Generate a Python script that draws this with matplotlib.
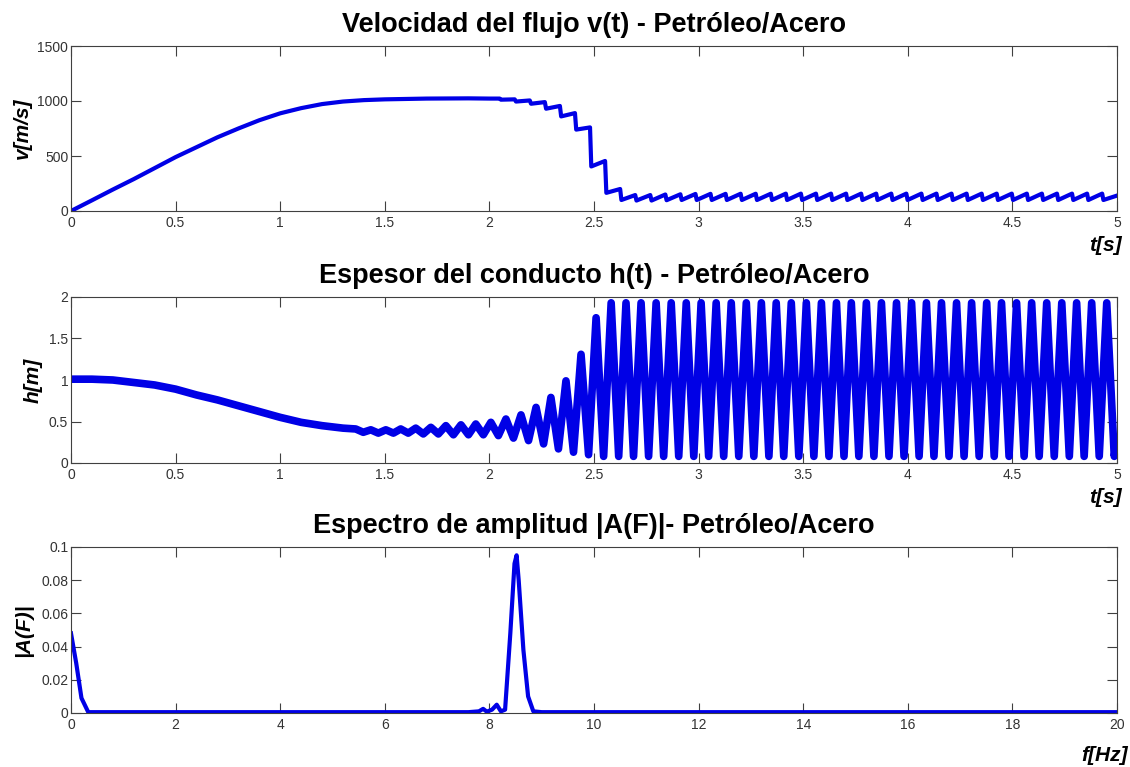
import matplotlib
matplotlib.use("Agg")
import matplotlib.pyplot as plt
from matplotlib.ticker import FormatStrFormatter

plt.rcParams["font.family"] = ["Liberation Sans", "DejaVu Sans"]

# ---- v(t): smooth rise, then step drops (sawtooth) ----
v_t_smooth = [0, 0.1, 0.2, 0.3, 0.4, 0.5, 0.6, 0.7, 0.8, 0.9, 1.0, 1.1,
              1.2, 1.3, 1.4, 1.5, 1.7, 1.9, 2.0]
v_smooth = [0, 97, 195, 290, 390, 490, 580, 670, 750, 825, 888, 935,
            972, 995, 1008, 1015, 1022, 1024, 1022]
v_drop_t = [2.049, 2.121, 2.193, 2.265, 2.337, 2.409, 2.481, 2.553, 2.625,
            2.697, 2.769, 2.841, 2.913, 2.985, 3.057, 3.129, 3.201, 3.273,
            3.345, 3.417, 3.489, 3.561, 3.633, 3.705, 3.777, 3.849, 3.921,
            3.993, 4.065, 4.137, 4.209, 4.281, 4.353, 4.425, 4.497, 4.569,
            4.641, 4.713, 4.785, 4.857, 4.929]
v_before = [1022, 1015, 1005, 990, 955, 890, 760, 455, 200,
            145, 145, 150, 152, 155, 156, 156, 157, 157,
            157, 158, 158, 158, 158, 158, 158, 158, 158,
            158, 158, 158, 158, 158, 158, 158, 158, 158,
            158, 158, 158, 158, 158]
v_after = [1012, 995, 975, 930, 860, 740, 405, 165, 100,
           95, 95, 98, 100, 100, 100, 100, 100, 100,
           100, 100, 100, 100, 100, 100, 100, 100, 100,
           100, 100, 100, 100, 100, 100, 100, 100, 100,
           100, 100, 100, 100, 100]
v_end = (5.0, 140)

# ---- h(t): smooth decay, then growing oscillation ----
h_t_smooth = [0, 0.1, 0.2, 0.3, 0.4, 0.5, 0.6, 0.7, 0.8, 0.9, 1.0, 1.1, 1.2, 1.3]
h_smooth = [1.01, 1.01, 1.0, 0.97, 0.94, 0.89, 0.82, 0.76, 0.69, 0.62, 0.55,
            0.49, 0.45, 0.42]
h_peak_t = [1.361, 1.433, 1.505, 1.576, 1.648, 1.720, 1.792, 1.864, 1.935,
            2.007, 2.079, 2.151, 2.223, 2.294, 2.366, 2.438, 2.510, 2.582,
            2.653, 2.725, 2.797, 2.869, 2.941, 3.012, 3.084, 3.156, 3.228,
            3.300, 3.371, 3.443, 3.515, 3.587, 3.659, 3.730, 3.802, 3.874,
            3.946, 4.018, 4.089, 4.161, 4.233, 4.305, 4.377, 4.448, 4.520,
            4.592, 4.664, 4.736, 4.807, 4.879, 4.951]
h_peak = [0.41, 0.40, 0.40, 0.41, 0.42, 0.43, 0.45, 0.46, 0.47,
          0.49, 0.53, 0.58, 0.67, 0.79, 0.99, 1.31, 1.75, 1.93,
          1.93, 1.93, 1.93, 1.93, 1.93, 1.93, 1.93, 1.93, 1.93,
          1.93, 1.93, 1.93, 1.93, 1.93, 1.93, 1.93, 1.93, 1.93,
          1.93, 1.93, 1.93, 1.93, 1.93, 1.93, 1.93, 1.93, 1.93,
          1.93, 1.93, 1.93, 1.93, 1.93, 1.93]
h_trough_t = [1.397, 1.469, 1.541, 1.612, 1.684, 1.756, 1.828, 1.900, 1.971,
              2.043, 2.115, 2.187, 2.259, 2.330, 2.402, 2.474, 2.546, 2.618,
              2.689, 2.761, 2.833, 2.905, 2.977, 3.048, 3.120, 3.192, 3.264,
              3.336, 3.407, 3.479, 3.551, 3.623, 3.695, 3.766, 3.838, 3.910,
              3.982, 4.054, 4.125, 4.197, 4.269, 4.341, 4.413, 4.484, 4.556,
              4.628, 4.700, 4.772, 4.843, 4.915, 4.987]
h_trough = [0.37, 0.36, 0.36, 0.36, 0.35, 0.35, 0.34, 0.34, 0.34,
            0.33, 0.30, 0.27, 0.23, 0.17, 0.13, 0.10, 0.08, 0.08,
            0.08, 0.08, 0.08, 0.08, 0.08, 0.08, 0.08, 0.08, 0.08,
            0.08, 0.08, 0.08, 0.08, 0.08, 0.08, 0.08, 0.08, 0.08,
            0.08, 0.08, 0.08, 0.08, 0.08, 0.08, 0.08, 0.08, 0.08,
            0.08, 0.08, 0.08, 0.08, 0.08, 0.08]
h_end = (5.0, 0.3)

# ---- amplitude spectrum ----
f_spec = [0, 0.1, 0.2, 0.33, 0.6, 7.6, 7.8, 7.88, 7.95, 8.05, 8.14, 8.22,
          8.30, 8.40, 8.48, 8.52, 8.56, 8.65, 8.74, 8.84, 9.0, 20]
a_spec = [0.048, 0.030, 0.009, 0.0005, 0.0005, 0.0005, 0.001, 0.0025, 0.0008,
          0.002, 0.005, 0.001, 0.002, 0.048, 0.090, 0.095, 0.080, 0.038,
          0.010, 0.001, 0.0005, 0.0005]

# assemble line vertices from the read points
v_t = list(v_t_smooth)
v = list(v_smooth)
for d, b, a in zip(v_drop_t, v_before, v_after):
    v_t += [d, d + 0.006]
    v += [b, a]
v_t.append(v_end[0])
v.append(v_end[1])

h_t = list(h_t_smooth)
h = list(h_smooth)
for tp, hp, tt, ht in zip(h_peak_t, h_peak, h_trough_t, h_trough):
    h_t += [tp, tt]
    h += [hp, ht]
h_t.append(h_end[0])
h.append(h_end[1])

blue = "#0000e6"
spine = "#404040"

fig = plt.figure(figsize=(11.3, 7.67), dpi=100)
W, H = 1130, 767
left, width = 71 / W, 1046 / W
ax1 = fig.add_axes([left, 1 - 211 / H, width, 165 / H])
ax2 = fig.add_axes([left, 1 - 463 / H, width, 166 / H])
ax3 = fig.add_axes([left, 1 - 713 / H, width, 166 / H])

ax1.plot(v_t, v, color=blue, lw=3, solid_joinstyle="round")
ax2.plot(h_t, h, color=blue, lw=5.5, solid_joinstyle="round")
ax3.plot(f_spec, a_spec, color=blue, lw=3, solid_joinstyle="round")

ax1.set_xlim(0, 5)
ax1.set_ylim(0, 1500)
ax1.set_yticks([0, 500, 1000, 1500])
ax2.set_xlim(0, 5)
ax2.set_ylim(0, 2)
ax2.set_yticks([0, 0.5, 1, 1.5, 2])
ax3.set_xlim(0, 20)
ax3.set_ylim(0, 0.1)
ax3.set_xticks(range(0, 21, 2))
ax3.set_yticks([0, 0.02, 0.04, 0.06, 0.08, 0.1])
for ax in (ax1, ax2):
    ax.set_xticks([0, 0.5, 1, 1.5, 2, 2.5, 3, 3.5, 4, 4.5, 5])

titles = ["Velocidad del flujo v(t) - Petróleo/Acero",
          "Espesor del conducto h(t) - Petróleo/Acero",
          "Espectro de amplitud |A(F)|- Petróleo/Acero"]
ylabels = ["v[m/s]", "h[m]", "|A(F)|"]
xlabels = ["t[s]", "t[s]", "f[Hz]"]
ylab_x = [-0.037, -0.027, -0.036]
xlab_pos = [(1.005, -0.15), (1.005, -0.15), (1.01, -0.20)]

for ax, ttl, yl, xl, yx, xp in zip((ax1, ax2, ax3), titles, ylabels, xlabels,
                                   ylab_x, xlab_pos):
    ax.set_title(ttl, fontsize=19.5, fontweight="bold", pad=10)
    ax.set_ylabel(yl, fontsize=15, fontweight="bold", style="italic")
    ax.yaxis.set_label_coords(yx, 0.5)
    ax.set_xlabel(xl, fontsize=15, fontweight="bold", style="italic", ha="right")
    ax.xaxis.set_label_coords(*xp)
    ax.xaxis.set_major_formatter(FormatStrFormatter("%g"))
    ax.yaxis.set_major_formatter(FormatStrFormatter("%g"))
    ax.tick_params(direction="in", length=7, width=0.8, colors=spine,
                   labelcolor="#333333", labelsize=10, top=True, right=True)
    ax.tick_params(axis="y", pad=2)
    for s in ax.spines.values():
        s.set_color(spine)
        s.set_linewidth(0.8)

fig.savefig("out.png", dpi=100)
